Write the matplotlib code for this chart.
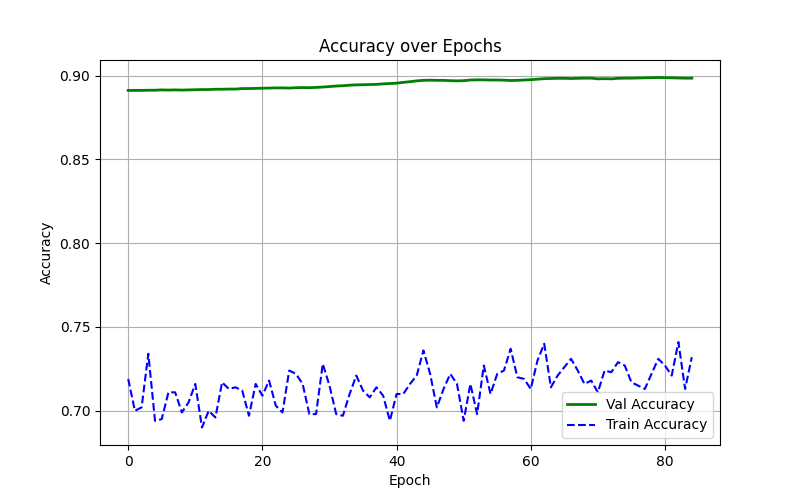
import matplotlib
matplotlib.use("Agg")
import matplotlib.pyplot as plt

train_acc = [0.719,0.700,0.702,0.734,0.694,0.695,0.711,0.711,0.699,0.705,
             0.716,0.690,0.700,0.696,0.717,0.713,0.714,0.712,0.697,0.716,
             0.709,0.718,0.703,0.699,0.724,0.722,0.716,0.698,0.698,0.728,
             0.715,0.698,0.697,0.710,0.721,0.712,0.708,0.714,0.709,0.694,
             0.710,0.710,0.716,0.721,0.736,0.722,0.702,0.713,0.722,0.716,
             0.694,0.716,0.698,0.727,0.710,0.722,0.724,0.737,0.720,0.719,
             0.713,0.730,0.740,0.714,0.721,0.726,0.731,0.724,0.716,0.718,
             0.711,0.724,0.723,0.729,0.727,0.717,0.715,0.713,0.722,0.731,
             0.727,0.721,0.741,0.713,0.732]
val_acc = [0.8912,0.8912,0.8912,0.8913,0.8913,0.8915,0.8914,0.8915,0.8914,0.8915,
           0.8916,0.8917,0.8917,0.8919,0.8919,0.8920,0.8920,0.8923,0.8923,0.8924,
           0.8925,0.8926,0.8927,0.8927,0.8926,0.8928,0.8929,0.8928,0.8930,0.8932,
           0.8935,0.8938,0.8940,0.8943,0.8945,0.8946,0.8947,0.8948,0.8951,0.8953,
           0.8955,0.8960,0.8964,0.8969,0.8972,0.8973,0.8972,0.8972,0.8970,0.8969,
           0.8970,0.8974,0.8975,0.8975,0.8974,0.8974,0.8973,0.8971,0.8972,0.8974,
           0.8976,0.8979,0.8982,0.8983,0.8984,0.8984,0.8983,0.8984,0.8985,0.8985,
           0.8981,0.8982,0.8981,0.8984,0.8985,0.8985,0.8986,0.8987,0.8988,0.8989,
           0.8988,0.8987,0.8986,0.8985,0.8985]
epochs = list(range(len(train_acc)))

fig, ax = plt.subplots(figsize=(8, 5), dpi=100)
ax.plot(epochs, val_acc, color="green", linewidth=2, label="Val Accuracy")
ax.plot(epochs, train_acc, color="blue", linestyle="--", linewidth=1.5, label="Train Accuracy")
ax.set_title("Accuracy over Epochs")
ax.set_xlabel("Epoch")
ax.set_ylabel("Accuracy")
ax.set_yticks([0.70, 0.75, 0.80, 0.85, 0.90])
ax.grid(True)
ax.legend(loc="lower right")
fig.savefig("out.png")
